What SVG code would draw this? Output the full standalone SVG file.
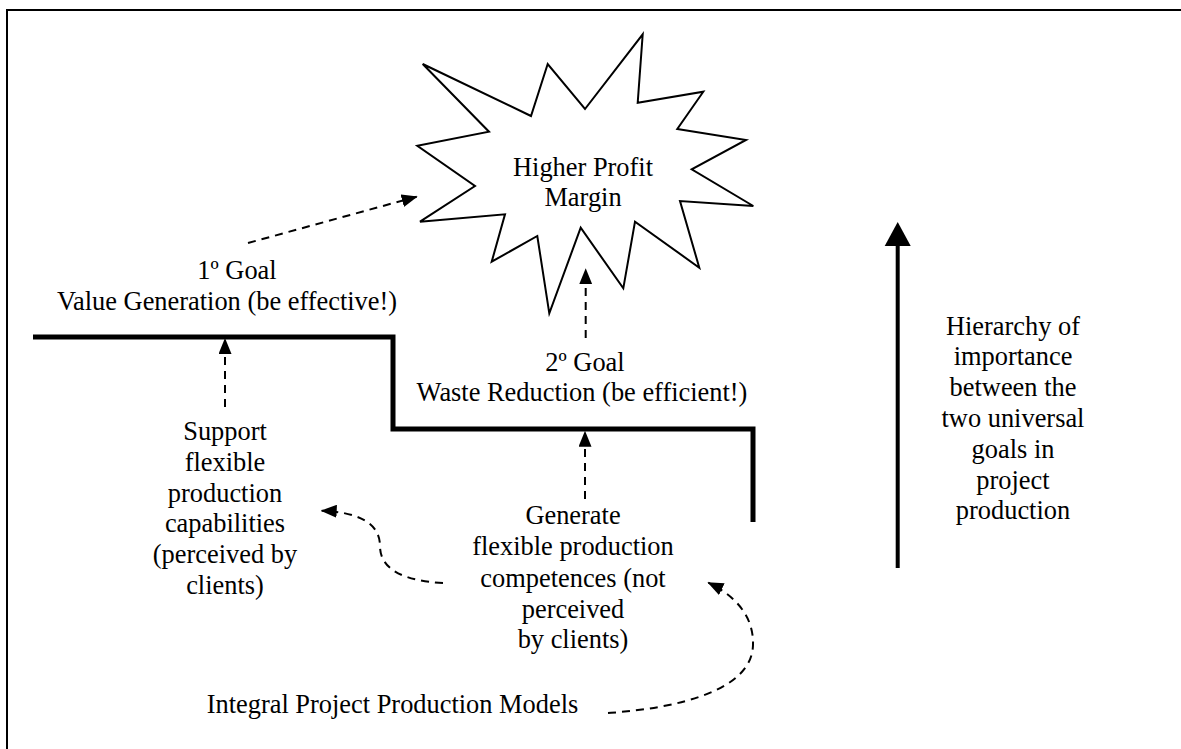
<svg xmlns="http://www.w3.org/2000/svg" width="1181" height="749" viewBox="0 0 1181 749">
<style>
  text { font-family: "Liberation Serif", "Times New Roman", serif; font-size: 26.4px; fill: #000; text-anchor: middle; }
  .frame { fill: none; stroke: #000; stroke-width: 2; }
  .star { fill: #fff; stroke: #000; stroke-width: 2; stroke-linejoin: miter; }
  .step { fill: none; stroke: #000; stroke-width: 5; stroke-linejoin: miter; }
  .dash { fill: none; stroke: #000; stroke-width: 2; stroke-dasharray: 8 6; marker-end: url(#ah); }
  .big { fill: none; stroke: #000; stroke-width: 4; }
</style>
<defs>
  <marker id="ah" markerUnits="userSpaceOnUse" markerWidth="16" markerHeight="13" refX="15" refY="6.5" orient="auto">
    <path d="M0,0 L16,6.5 L0,13 z" fill="#000"/>
  </marker>
</defs>
<rect width="1181" height="749" fill="#fff"/>
<path class="frame" d="M7,749 V10 H1181"/>

<g id="goal-star">
  <polygon class="star" points="422.7,64 531,116 547.7,64 585,109 642.7,34.3 637.7,102.7 703.3,91.7 677.3,129 746,140 691.7,169.3 753.3,206 680,201 699.3,267.7 635,221.7 623.3,288.3 580.7,227.7 549.3,313.3 537.3,236 491.7,261.7 505,214.3 420,221.7 475,186 417.3,145.7 489,131.7"/>
  <text x="583" y="175.7">Higher Profit</text>
  <text x="583" y="205.7">Margin</text>
</g>

<g id="goal1">
  <text x="237" y="279">1º Goal</text>
  <text x="227" y="310">Value Generation (be effective!)</text>
</g>

<g id="goal2">
  <text x="585" y="371">2º Goal</text>
  <text x="582" y="400.7">Waste Reduction (be efficient!)</text>
</g>

<g id="step-line">
  <path class="step" d="M33,337 H393 V429 H753 V522"/>
</g>

<g id="support">
  <text x="225" y="440">Support</text>
  <text x="225" y="470.8">flexible</text>
  <text x="225" y="501.6">production</text>
  <text x="225" y="532.4">capabilities</text>
  <text x="225" y="563.2">(perceived by</text>
  <text x="225" y="594">clients)</text>
</g>

<g id="generate">
  <text x="573" y="524.3">Generate</text>
  <text x="573" y="555.4">flexible production</text>
  <text x="573" y="586.5">competences (not</text>
  <text x="573" y="617.5">perceived</text>
  <text x="573" y="648.4">by clients)</text>
</g>

<g id="models">
  <text x="392.5" y="713.3">Integral Project Production Models</text>
</g>

<g id="hierarchy">
  <text x="1013" y="334.5">Hierarchy of</text>
  <text x="1013" y="365.3">importance</text>
  <text x="1013" y="396.1">between the</text>
  <text x="1013" y="426.9">two universal</text>
  <text x="1013" y="457.7">goals in</text>
  <text x="1013" y="488.5">project</text>
  <text x="1013" y="519.3">production</text>
</g>

<g id="connectors">
  <path class="dash" d="M248,243 L416.7,196.7"/>
  <path class="dash" d="M585.7,338 L585.7,269.3"/>
  <path class="dash" d="M225,407 L225,339"/>
  <path class="dash" d="M585,499 L585,431.7"/>
  <path class="dash" d="M443,583 C405,581 380,570 380,546 C380,522 356,512 321.7,510.7"/>
  <path class="dash" d="M608,713 C680,708 752,690 753,645 C754,617 736,596 708.3,582.7"/>
  <path class="big" d="M897.7,568 V244"/>
  <polygon points="884.7,246 910.7,246 897.7,222" fill="#000"/>
</g>
</svg>
